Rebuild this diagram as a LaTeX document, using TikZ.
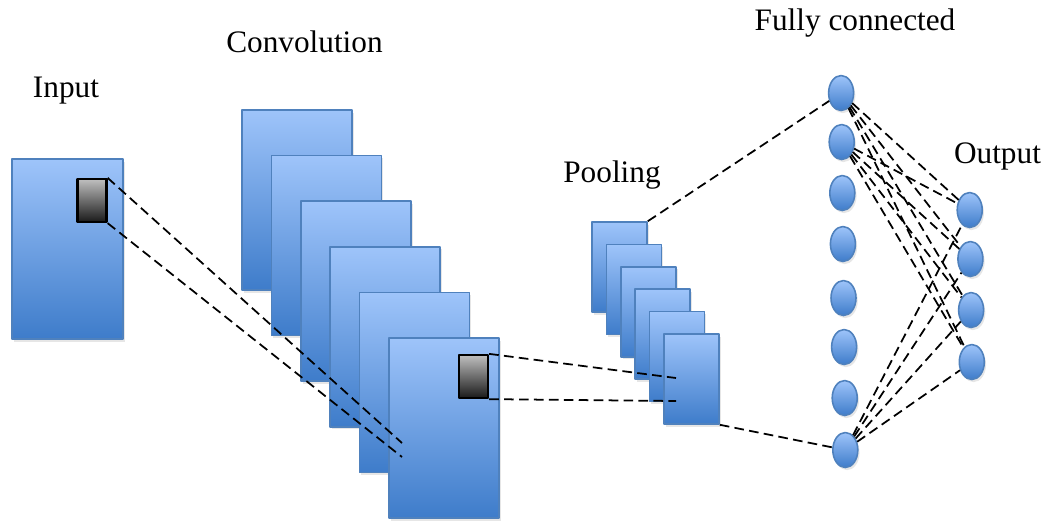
\documentclass[tikz,border=0pt]{standalone}
\usepackage{fontspec}
\setmainfont{Liberation Serif}
\usetikzlibrary{shapes.geometric,shadows}
\definecolor{maptop}{RGB}{158,196,250}
\definecolor{mapbot}{RGB}{62,124,202}
\definecolor{mapedge}{RGB}{79,129,189}
\tikzset{
	fmap/.style={draw=mapedge, line width=0.9pt, top color=maptop, bottom color=mapbot, inner sep=0pt,
		drop shadow={shadow xshift=1pt, shadow yshift=-1.5pt, opacity=0.2}},
	kern/.style={draw=black, line width=1.3pt, top color=black!25, bottom color=black!90, inner sep=0pt,
		minimum width=0.58cm, minimum height=0.86cm},
	neuron/.style={ellipse, fmap, minimum width=0.5cm, minimum height=0.7cm},
	conn/.style={dash pattern=on 5.5pt off 3pt, line width=1pt},
	lbl/.style={anchor=base}
}
\begin{document}
\begin{tikzpicture}[x=0.02cm, y=-0.02cm, line join=round, font=\fontsize{17.8}{21}\selectfont]
			\def\cvdx{29.4} \def\cvdy{45.6} % pas des cartes
			\def\pldx{14.4} \def\pldy{22.4}
			\useasboundingbox (0,0) rectangle (1050,522);
			% entree
			\node[fmap, minimum width=2.22cm, minimum height=3.6cm] (in) at (67.5,249) {};
			\node[kern] (kin) at (92,200.5) {};
			% convolution
			\foreach \i in {0,...,5}
				\node[fmap, minimum width=2.2cm, minimum height=3.6cm] (cv\i) at (297+\cvdx*\i,200+\cvdy*\i) {};
			\node[kern] (kcv) at (473.5,376.5) {};
			% pooling
			\foreach \i in {0,...,5}
				\node[fmap, minimum width=1.1cm, minimum height=1.8cm] (pl\i) at (619.5+\pldx*\i,267+\pldy*\i) {};
			% couches denses
			\foreach \y [count=\i] in {93,142,193,244,298,347,398,450}
				\node[neuron] (fc\i) at (840.5+0.6*\i,\y) {};
			\foreach \y [count=\i] in {210,259,310,362}
				\node[neuron] (out\i) at (969+0.7*\i,\y) {};
			\coordinate (cvhit1) at (402,443);
			\coordinate (cvhit2) at (402,457);
			\coordinate (plhit1) at (676,378);
			\coordinate (plhit2) at (676,401);
			\draw[conn] (kin.north east)--(cvhit1);
			\draw[conn] (kin.south east)--(cvhit2);
			\draw[conn] (kcv.north east)--(plhit1);
			\draw[conn] (kcv.south east)--(plhit2);
			\draw[conn] (pl0.north east)--(fc1);
			\draw[conn] (pl5.south east)--(fc8);
			\foreach \s in {1,2,8}
				\foreach \t in {1,...,4}
					\draw[conn] (fc\s)--(out\t);
			% titres
			\node[lbl] (tin) at (66,97) {Input};
			\node[lbl] (tcv) at (304.5,52) {Convolution};
			\node[lbl] (tpl) at (612,182) {Pooling};
			\node[lbl] (tfc) at (855,30) {Fully connected};
			\node[lbl] (tout) at (997.5,163) {Output};
		\end{tikzpicture}
\end{document}
